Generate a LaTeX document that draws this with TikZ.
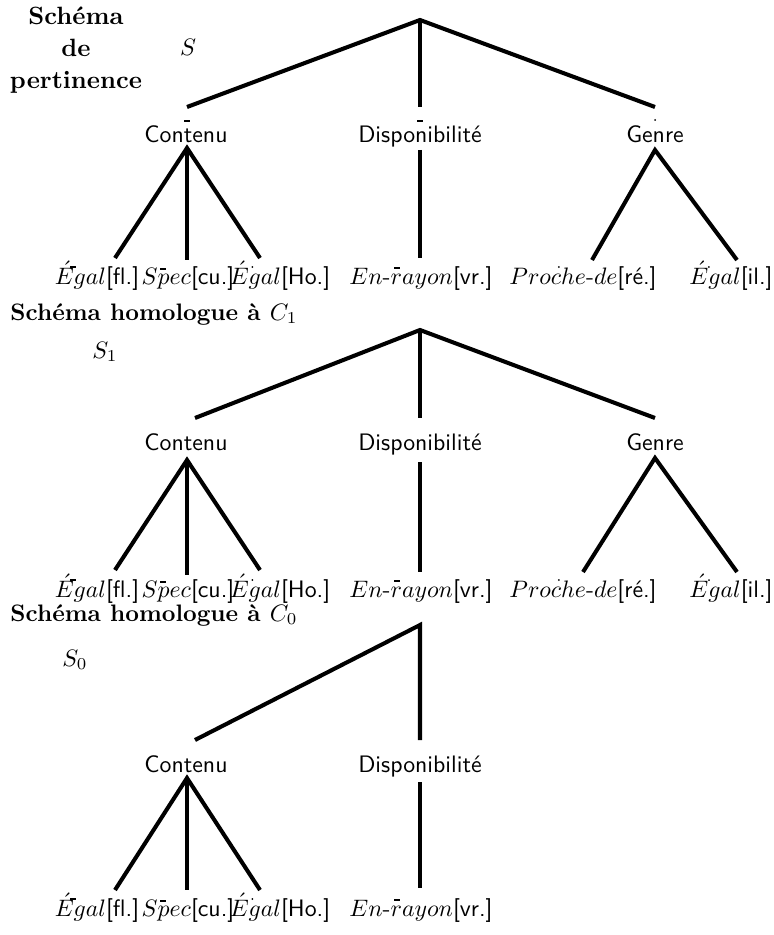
\documentclass[tikz,border=0pt]{standalone}
\usepackage{fontspec}
\usetikzlibrary{calc}
\begin{document}
\begin{tikzpicture}[x=0.42pt,y=-0.42pt,
  br/.style={line width=1.7pt},
  lab/.style={font=\sffamily, inner sep=0pt, anchor=base},
  leaf/.style={inner sep=0pt, anchor=base},
  ttl/.style={font=\bfseries, inner sep=0pt},
  tickmark/.style={line width=0.45pt},
  dotmark/.style={fill=black}]
\useasboundingbox (0,0) rectangle (773,935);
\newcommand{\lfx}[2]{$#1$\textsf{[#2]}}
\newcommand{\dshat}[3]{\draw[tickmark] ($(#1.base west)+(#2-3,-#3)$) -- ($(#1.base west)+(#2+3,-#3)$);}
\newcommand{\dotat}[3]{\fill[dotmark] ($(#1.base west)+(#2,-#3)$) circle (1);}
% ---------------- Tree 1 ----------------
\node[ttl, align=center, font=\bfseries\fontsize{10.5}{13.3}\selectfont] (T1) at (76,50) {Schéma\\de\\pertinence};
\node[inner sep=0pt] (S) at (188,47) {$S$};
\coordinate (r1) at (420,20);
\coordinate (a1) at (187,107);
\coordinate (b1) at (420,107);
\coordinate (c1) at (655,107);
\node[lab] (C1) at (186,143) {Contenu};
\node[lab] (D1) at (420,143) {Disponibilité};
\node[lab] (G1) at (655,143) {Genre};
\coordinate (ca1) at (187,148);
\coordinate (da1) at (420,150);
\coordinate (ga1) at (655,150);
\coordinate (l11) at (115,258);
\coordinate (l12) at (187,260);
\coordinate (l13) at (260,258);
\coordinate (l14) at (420,258);
\coordinate (l15) at (592,260);
\coordinate (l16) at (737,260);
\node[leaf] (L11) at (97,284) {\lfx{\acute{E}gal}{fl.}};
\node[leaf] (L12) at (188,284) {\lfx{Spec}{cu.}};
\node[leaf] (L13) at (280,284) {\lfx{\acute{E}gal}{Ho.}};
\node[leaf] (L14) at (421,284) {$En$-$rayon$\textsf{[vr.]}};
\node[leaf] (L15) at (583,284) {$Proche$-$de$\textsf{[ré.]}};
\node[leaf] (L16) at (731,284) {\lfx{\acute{E}gal}{il.}};
\draw[br] (a1) -- (r1) -- (c1);
\draw[br] (r1) -- (b1);
\draw[br] (l11) -- (ca1) -- (l13);
\draw[br] (ca1) -- (l12);
\draw[br] (da1) -- (l14);
\draw[br] (l15) -- (ga1) -- (l16);
% small marks
\draw[tickmark] (184,121) -- (190,121);
\draw[tickmark] (417,121) -- (423,121);
\fill[dotmark] (655,120) circle (1);
\dshat{L11}{19}{17}
\dshat{L12}{22}{15}
\dotat{L13}{23}{17}
\dshat{L14}{48}{16}
\dotat{L15}{50}{17}
\dotat{L16}{20}{17}
% ---------------- Tree 2 ----------------
\node[ttl, anchor=base west] (T2) at (10,320) {Schéma homologue à $C_1$};
\node[inner sep=0pt] (S1) at (105,352) {$S_1$};
\coordinate (r2) at (420,330);
\coordinate (a2) at (195,418);
\coordinate (b2) at (420,418);
\coordinate (c2) at (655,418);
\node[lab] (C2) at (186,450) {Contenu};
\node[lab] (D2) at (420,450) {Disponibilité};
\node[lab] (G2) at (655,450) {Genre};
\coordinate (ca2) at (187,460);
\coordinate (da2) at (420,462);
\coordinate (ga2) at (655,458);
\coordinate (l21) at (115,570);
\coordinate (l22) at (187,575);
\coordinate (l23) at (260,570);
\coordinate (l24) at (420,572);
\coordinate (l25) at (583,572);
\coordinate (l26) at (737,572);
\node[leaf] (L21) at (97,597) {\lfx{\acute{E}gal}{fl.}};
\node[leaf] (L22) at (188,597) {\lfx{Spec}{cu.}};
\node[leaf] (L23) at (280,597) {\lfx{\acute{E}gal}{Ho.}};
\node[leaf] (L24) at (421,597) {$En$-$rayon$\textsf{[vr.]}};
\node[leaf] (L25) at (583,597) {$Proche$-$de$\textsf{[ré.]}};
\node[leaf] (L26) at (731,597) {\lfx{\acute{E}gal}{il.}};
\draw[br] (a2) -- (r2) -- (c2);
\draw[br] (r2) -- (b2);
\draw[br] (l21) -- (ca2) -- (l23);
\draw[br] (ca2) -- (l22);
\draw[br] (da2) -- (l24);
\draw[br] (l25) -- (ga2) -- (l26);
\dshat{L21}{19}{17}
\dshat{L22}{22}{15}
\dotat{L23}{23}{17}
\dshat{L24}{48}{16}
\dotat{L25}{50}{17}
\dotat{L26}{20}{17}
% ---------------- Tree 3 ----------------
\node[ttl, anchor=base west] (T3) at (10,621) {Schéma homologue à $C_0$};
\node[inner sep=0pt] (S0) at (75,660) {$S_0$};
\coordinate (r3) at (420,625);
\coordinate (a3) at (195,740);
\coordinate (b3) at (420,740);
\node[lab] (C3) at (186,772) {Contenu};
\node[lab] (D3) at (420,772) {Disponibilité};
\coordinate (ca3) at (187,778);
\coordinate (da3) at (420,782);
\coordinate (l31) at (115,890);
\coordinate (l32) at (187,890);
\coordinate (l33) at (260,890);
\coordinate (l34) at (420,888);
\node[leaf] (L31) at (97,916) {\lfx{\acute{E}gal}{fl.}};
\node[leaf] (L32) at (188,916) {\lfx{Spec}{cu.}};
\node[leaf] (L33) at (280,916) {\lfx{\acute{E}gal}{Ho.}};
\node[leaf] (L34) at (421,916) {$En$-$rayon$\textsf{[vr.]}};
\draw[br] (a3) -- (r3) -- (b3);
\draw[br] (l31) -- (ca3) -- (l33);
\draw[br] (ca3) -- (l32);
\draw[br] (da3) -- (l34);
\dshat{L31}{19}{17}
\dshat{L32}{22}{15}
\dotat{L33}{23}{17}
\dshat{L34}{48}{16}
\end{tikzpicture}
\end{document}
